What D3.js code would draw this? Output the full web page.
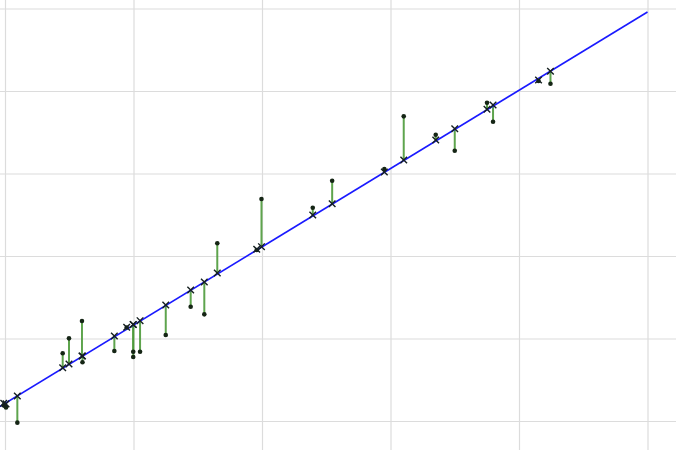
<!DOCTYPE html>
<html><head><meta charset="utf-8">
<script src="https://cdn.jsdelivr.net/npm/d3@7"></script>
<style>html,body{margin:0;padding:0;background:#fff;}</style>
</head><body>
<svg id="chart" width="676" height="450"></svg>
<script>
// Data
const xTicks = [0, 1, 2, 3, 4, 5];
const yTicks = [0, 1, 2, 3, 4, 5];
const fitX = [-0.04, 5.0];
const fitY = [0.175, 4.958];
const sampleX = [-0.01, 0.008, 0.096, 0.449, 0.498, 0.599, 0.603, 0.851, 0.947, 0.998, 0.998, 1.051, 1.251, 1.445, 1.551, 1.652, 1.959, 1.996, 2.395, 2.546, 2.952, 3.103, 3.352, 3.500, 3.751, 3.798, 4.152, 4.245];
const predicted = [0.215, 0.208, 0.303, 0.646, 0.691, 0.788, 0.788, 1.030, 1.136, 1.170, 1.170, 1.216, 1.406, 1.588, 1.685, 1.794, 2.081, 2.113, 2.497, 2.634, 3.018, 3.164, 3.406, 3.543, 3.778, 3.830, 4.133, 4.239];
const actual    = [0.190, 0.165, -0.020, 0.821, 1.002, 1.212, 0.712, 0.848, 1.133, 0.840, 0.776, 0.840, 1.042, 1.385, 1.293, 2.154, 2.073, 2.691, 2.585, 2.913, 3.055, 3.693, 3.470, 3.276, 3.858, 3.628, 4.121, 4.088];

const svg = d3.select("#chart");
const x = d3.scaleLinear().domain([0, 5]).range([5, 647.5]);
const y = d3.scaleLinear().domain([0, 5]).range([421, 8.5]);

// grid
svg.append("g").attr("transform", "translate(0,450)")
  .call(d3.axisBottom(x).tickValues(xTicks).tickSize(-450).tickFormat(""))
  .call(g => g.select(".domain").remove())
  .call(g => g.selectAll("line").attr("stroke", "#dcdcdc").attr("stroke-width", 1.2));
svg.append("g").attr("transform", "translate(676,0)")
  .call(d3.axisLeft(y).tickValues(yTicks).tickSize(676).tickFormat(""))
  .call(g => g.select(".domain").remove())
  .call(g => g.selectAll("line").attr("stroke", "#dcdcdc").attr("stroke-width", 1.2));

// residual lines
const idx = d3.range(sampleX.length);
svg.append("g").selectAll("line").data(idx).join("line")
  .attr("x1", i => x(sampleX[i])).attr("x2", i => x(sampleX[i]))
  .attr("y1", i => y(predicted[i])).attr("y2", i => y(actual[i]))
  .attr("stroke", "#4c9a3a").attr("stroke-opacity", 0.9).attr("stroke-width", 2);

// fit line
svg.append("path")
  .datum(d3.zip(fitX, fitY))
  .attr("d", d3.line().x(d => x(d[0])).y(d => y(d[1])))
  .attr("stroke", "#1a1aff").attr("stroke-width", 1.6).attr("fill", "none");

// actual points
svg.append("g").selectAll("circle").data(idx).join("circle")
  .attr("cx", i => x(sampleX[i])).attr("cy", i => y(actual[i]))
  .attr("r", 2.3).attr("fill", "#152515");

// predicted markers (x)
const s = 3.3;
svg.append("g").selectAll("path").data(idx).join("path")
  .attr("d", i => {
    const cx = x(sampleX[i]), cy = y(predicted[i]);
    return `M${cx-s},${cy-s}L${cx+s},${cy+s}M${cx-s},${cy+s}L${cx+s},${cy-s}`;
  })
  .attr("stroke", "#152020").attr("stroke-width", 1.4).attr("fill", "none");
</script>
</body></html>
